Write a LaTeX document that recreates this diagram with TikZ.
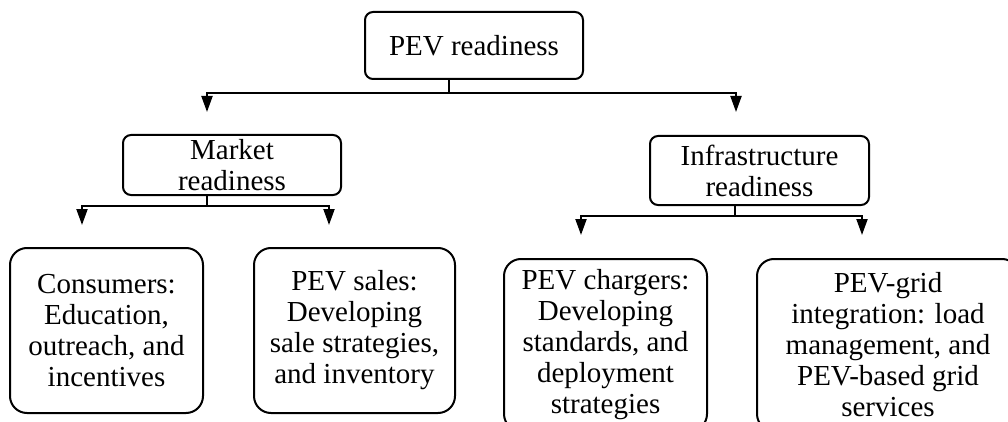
\documentclass[tikz,border=0pt]{standalone}
\usepackage{fontspec}
\setmainfont{Liberation Serif}
\usetikzlibrary{arrows.meta, positioning}

\begin{document}
\begin{tikzpicture}[
    x=1pt, y=1pt,
    every node/.style={font=\fontsize{29}{31}\selectfont, align=center, inner sep=0pt},
    box/.style={draw, line width=2pt, rounded corners=8pt},
    leaf/.style={draw, line width=2pt, rounded corners=17pt, minimum height=165pt},
    line/.style={line width=2pt},
    arrow/.style={line width=2pt, -{Triangle[length=16pt, width=11pt]}},
  ]
  \useasboundingbox (0,0) rectangle (1008,-422);

  % Root node
  \node[box, minimum width=218pt, minimum height=67pt] (pev) at (474,-45.5) {PEV readiness};

  % Second level
  \node[box, minimum width=218pt, minimum height=60pt] (market) at (232,-165) {Market\\readiness};
  \node[box, minimum width=219pt, minimum height=69pt] (infra) at (759.5,-170.5) {Infrastructure\\readiness};

  % Leaves under market readiness
  \node[leaf, minimum width=193pt] (cons) at (106.5,-330.5)
    {Consumers:\\Education,\\outreach, and\\incentives};
  \node[leaf, minimum width=201pt] (sales) [right=49pt of cons]
    {PEV sales:\\Developing\\sale strategies,\\and inventory};

  % Leaves under infrastructure readiness
  \node[leaf, minimum width=203pt, minimum height=172pt] (chargers) at (605.5,-345)
    {PEV chargers:\\Developing\\standards, and\\deployment\\strategies};
  \node[leaf, minimum width=262pt, minimum height=172pt] (grid) [right=48pt of chargers]
    {PEV-grid\\integration: load\\management, and\\PEV-based grid\\services};

  % Bus joints and free arrow ends
  \coordinate (j0) at (449,-93);
  \coordinate (t0l) at (207,-112);
  \coordinate (t0r) at (736,-112);
  \coordinate (j1) at (207,-206);
  \coordinate (t1l) at (82,-225);
  \coordinate (t1r) at (329,-225);
  \coordinate (j2) at (735,-216);
  \coordinate (t2l) at (581,-235);
  \coordinate (t2r) at (862,-235);

  % Root to second level
  \draw[line] (pev.south -| j0) -- (j0);
  \draw[arrow] (j0) -| (t0l);
  \draw[arrow] (j0) -| (t0r);

  % Market readiness to its leaves
  \draw[line] (market.south -| j1) -- (j1);
  \draw[arrow] (j1) -| (t1l);
  \draw[arrow] (j1) -| (t1r);

  % Infrastructure readiness to its leaves
  \draw[line] (infra.south -| j2) -- (j2);
  \draw[arrow] (j2) -| (t2l);
  \draw[arrow] (j2) -| (t2r);
\end{tikzpicture}
\end{document}
